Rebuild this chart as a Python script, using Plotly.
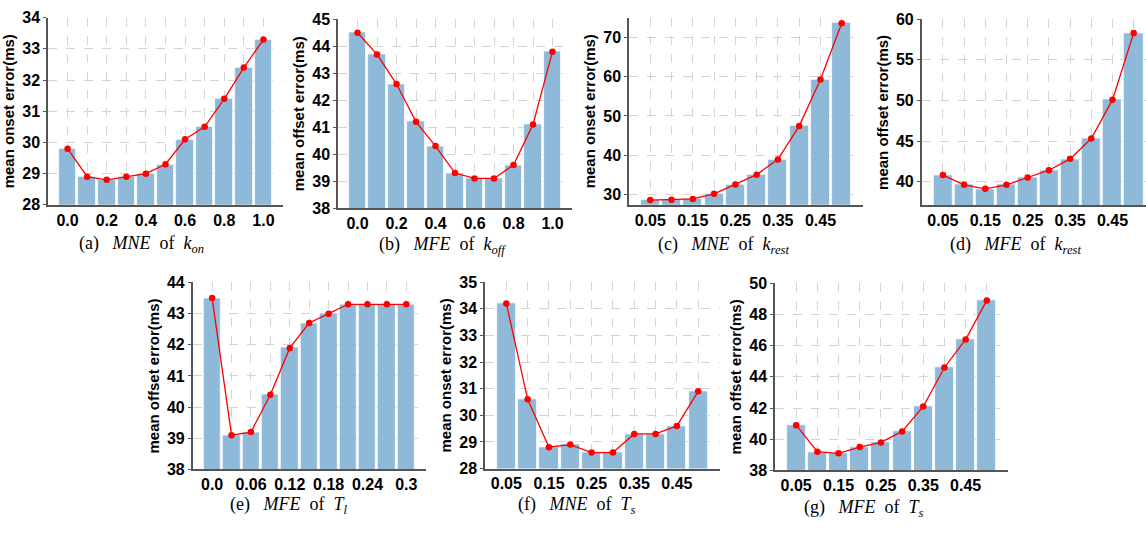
import plotly.graph_objects as go

W, H = 1146, 533

# ---------------- data ----------------
k_on = [0.0, 0.1, 0.2, 0.3, 0.4, 0.5, 0.6, 0.7, 0.8, 0.9, 1.0]
mne_k_on = [29.8, 28.9, 28.8, 28.9, 29.0, 29.3, 30.1, 30.5, 31.4, 32.4, 33.3]

k_off = [0.0, 0.1, 0.2, 0.3, 0.4, 0.5, 0.6, 0.7, 0.8, 0.9, 1.0]
mfe_k_off = [44.5, 43.7, 42.6, 41.2, 40.3, 39.3, 39.1, 39.1, 39.6, 41.1, 43.8]

k_rest = [0.05, 0.10, 0.15, 0.20, 0.25, 0.30, 0.35, 0.40, 0.45, 0.50]
mne_k_rest = [28.5, 28.6, 28.8, 30.1, 32.5, 35.0, 38.9, 47.4, 59.3, 73.7]
mfe_k_rest = [40.8, 39.6, 39.1, 39.6, 40.5, 41.4, 42.8, 45.3, 50.1, 58.3]

t_l = [0.0, 0.03, 0.06, 0.09, 0.12, 0.15, 0.18, 0.21, 0.24, 0.27, 0.30]
mfe_t_l = [43.5, 39.1, 39.2, 40.4, 41.9, 42.7, 43.0, 43.3, 43.3, 43.3, 43.3]

t_s = [0.05, 0.10, 0.15, 0.20, 0.25, 0.30, 0.35, 0.40, 0.45, 0.50]
mne_t_s = [34.2, 30.6, 28.8, 28.9, 28.6, 28.6, 29.3, 29.3, 29.6, 30.9]
mfe_t_s = [40.9, 39.2, 39.1, 39.5, 39.8, 40.5, 42.1, 44.6, 46.4, 48.9]

ticks_k = ["0.0", "", "0.2", "", "0.4", "", "0.6", "", "0.8", "", "1.0"]
ticks_005 = ["0.05", "", "0.15", "", "0.25", "", "0.35", "", "0.45", ""]
ticks_tl = ["0.0", "", "0.06", "", "0.12", "", "0.18", "", "0.24", "", "0.3"]


def caption(tag, metric, sym, sub):
    sp = "&nbsp;"
    return (f"({tag})" + sp * 3 + f"<i>{metric}</i>" + sp * 2 + "of" + sp * 2
            + f"<i>{sym}</i><sub><i>{sub}</i></sub>")


# ---------------- panel config ----------------
panels = [
    dict(x=k_on, y=mne_k_on, tt=ticks_k, step=0.1, ylab="mean onset error(ms)",
         cap=caption("a", "MNE", "k", "on"),
         box=(48, 283, 10, 203.3), yr=(28, 34), dtick=1, xr=(-0.1, 1.1), cp=(141, 244)),
    dict(x=k_off, y=mfe_k_off, tt=ticks_k, step=0.1, ylab="mean offset error(ms)",
         cap=caption("b", "MFE", "k", "off"),
         box=(338, 572, 11.7, 206.7), yr=(38, 45), dtick=1, xr=(-0.1, 1.1), cp=(442, 245)),
    dict(x=k_rest, y=mne_k_rest, tt=ticks_005, step=0.05, ylab="mean onset error(ms)",
         cap=caption("c", "MNE", "k", "rest"),
         box=(629, 863, 10, 203.3), yr=(27.3, 75.1), dtick=10, xr=(0, 0.55), cp=(723, 245)),
    dict(x=k_rest, y=mfe_k_rest, tt=ticks_005, step=0.05, ylab="mean offset error(ms)",
         cap=caption("d", "MFE", "k", "rest"),
         box=(921.7, 1146, 11.7, 204), yr=(37.05, 60), dtick=5, xr=(0, 0.529), cp=(1015, 245)),
    dict(x=t_l, y=mfe_t_l, tt=ticks_tl, step=0.03, ylab="mean offset error(ms)",
         cap=caption("e", "MFE", "T", "l"),
         box=(192.7, 425.7, 283.5, 476.7), yr=(38, 44), dtick=1, xr=(-0.03, 0.33), cp=(288, 514)),
    dict(x=t_s, y=mne_t_s, tt=ticks_005, step=0.05, ylab="mean onset error(ms)",
         cap=caption("f", "MNE", "T", "s"),
         box=(485, 719.5, 283.3, 475.7), yr=(28, 35), dtick=1, xr=(0, 0.55), cp=(577, 514)),
    dict(x=t_s, y=mfe_t_s, tt=ticks_005, step=0.05, ylab="mean offset error(ms)",
         cap=caption("g", "MFE", "T", "s"),
         box=(775, 1008, 284.3, 477.7), yr=(38, 50), dtick=2, xr=(0, 0.55), cp=(864, 517)),
]

BAR = "#8fb9d9"
GRID = "#d4d4d4"
AX = "#555555"
tickfont = dict(family="Liberation Sans", size=16, color="black", weight="bold")

fig = go.Figure()
layout = dict(
    width=W, height=H, margin=dict(l=0, r=0, t=0, b=0),
    paper_bgcolor="white", plot_bgcolor="white", showlegend=False,
    bargap=0, annotations=[],
)

for i, p in enumerate(panels):
    n = "" if i == 0 else str(i + 1)
    xa, ya = "x" + n, "y" + n
    fig.add_trace(go.Bar(x=p["x"], y=p["y"], width=0.9 * p["step"], xaxis=xa, yaxis=ya,
                         marker=dict(color=BAR, line=dict(color="white", width=0.8))))
    fig.add_trace(go.Scatter(x=p["x"], y=p["y"], mode="lines+markers", xaxis=xa, yaxis=ya,
                             line=dict(color="#ff0000", width=1.3),
                             marker=dict(color="#ff0000", size=6.5)))
    x0, x1, yt, yb = p["box"]
    layout["xaxis" + n] = dict(
        domain=[x0 / W, min(x1 / W, 1.0)], anchor=ya, range=list(p["xr"]),
        tickvals=p["x"], ticktext=p["tt"], tickfont=tickfont,
        showgrid=True, gridcolor=GRID, griddash="dash", gridwidth=1,
        showline=True, linecolor=AX, linewidth=1.5, ticks="", zeroline=False,
    )
    layout["yaxis" + n] = dict(
        domain=[1 - yb / H, 1 - yt / H], anchor=xa, range=list(p["yr"]),
        dtick=p["dtick"], tick0=0, tickfont=tickfont,
        showgrid=True, gridcolor=GRID, griddash="dash", gridwidth=1,
        showline=True, linecolor=AX, linewidth=1.5, ticks="outside", ticklen=3,
        tickcolor=AX, zeroline=False,
        title=dict(text=p["ylab"], font=dict(family="Liberation Sans", size=15,
                                               color="black", weight="bold"), standoff=4),
    )
    layout["annotations"].append(dict(
        text=p["cap"], x=p["cp"][0] / W, y=1 - p["cp"][1] / H, xref="paper", yref="paper",
        showarrow=False, xanchor="center", yanchor="middle",
        font=dict(family="Liberation Serif", size=18, color="black")))

fig.update_layout(**layout)
fig.write_html("out.html")
